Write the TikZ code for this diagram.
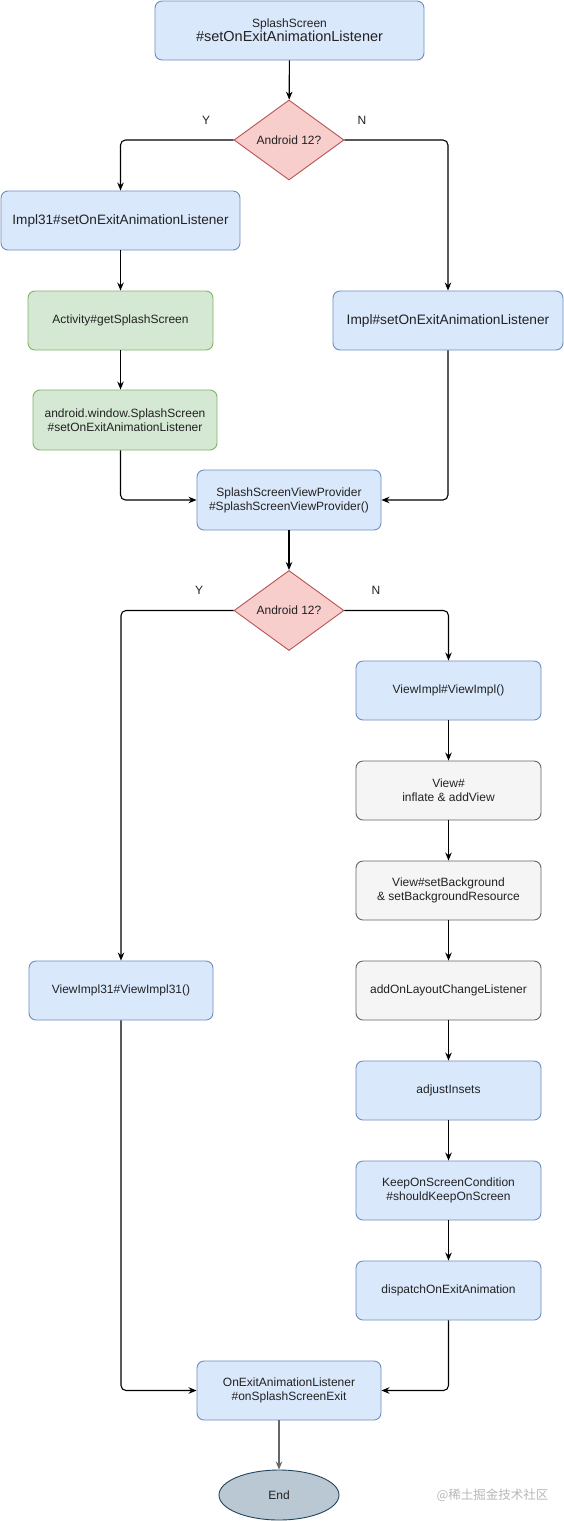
\documentclass[tikz,border=0pt]{standalone}
\usepackage{fontspec}
\setmainfont{Liberation Sans}
\newfontfamily\cjk{Noto Sans CJK SC}
\usetikzlibrary{shapes.geometric,arrows.meta}
\definecolor{bluefill}{HTML}{DAE8FC}\definecolor{bluedraw}{HTML}{6C8EBF}
\definecolor{greenfill}{HTML}{D5E8D4}\definecolor{greendraw}{HTML}{82B366}
\definecolor{grayfill}{HTML}{F5F5F5}\definecolor{graydraw}{HTML}{666666}
\definecolor{redfill}{HTML}{F8CECC}\definecolor{reddraw}{HTML}{B85450}
\definecolor{endfill}{HTML}{BAC8D3}\definecolor{enddraw}{HTML}{23445D}
\definecolor{txt}{HTML}{222222}
\begin{document}
\begin{tikzpicture}[x=1pt,y=-1pt,
  every node/.style={text=txt},
  base/.style={rectangle, rounded corners=7pt, line width=0.9pt, align=center, inner sep=0pt,
     minimum height=59pt, font=\fontsize{12}{14}\selectfont},
  bluebox/.style={base, fill=bluefill, draw=bluedraw},
  greenbox/.style={base, fill=greenfill, draw=greendraw},
  graybox/.style={base, fill=grayfill, draw=graydraw},
  decision/.style={diamond, aspect=1.375, fill=redfill, draw=reddraw, line width=0.9pt, inner sep=0pt,
     minimum width=110pt, minimum height=80pt, font=\fontsize{12}{14}\selectfont},
  arr/.style={-{Stealth[length=8pt,width=6.5pt]}, line width=1.1pt, rounded corners=5pt},
  lbl/.style={font=\fontsize{12}{14}\selectfont}
]
\useasboundingbox (0,0) rectangle (564,1521);
\fill[white] (0,0) rectangle (564,1521);

\node[bluebox, minimum width=269pt] (splash) at (289.5,30.5)
  {SplashScreen\\[0pt]{\fontsize{14.5}{16}\selectfont \#setOnExitAnimationListener}};
\node[decision] (d1) at (289,140) {Android 12?};
\node[lbl] (y1) at (206,120) {Y};
\node[lbl] (n1) at (362,120) {N};

\node[bluebox, minimum width=239pt, font=\fontsize{13.6}{16}\selectfont] (impl31) at (120.5,220.5) {Impl31\#setOnExitAnimationListener};
\node[greenbox, minimum width=185pt] (activity) at (120.5,320.5) {Activity\#getSplashScreen};
\node[greenbox, minimum width=184pt, minimum height=60pt] (android) at (125,420) {android.window.SplashScreen\\\#setOnExitAnimationListener};
\node[bluebox, minimum width=230pt, font=\fontsize{13.7}{16}\selectfont] (impl) at (448,320.5) {Impl\#setOnExitAnimationListener};

\node[bluebox, minimum width=184pt, minimum height=60pt] (ssvp) at (289,500) {SplashScreenViewProvider\\\#SplashScreenViewProvider()};
\node[decision] (d2) at (289,610.5) {Android 12?};
\node[lbl] (y2) at (199,590) {Y};
\node[lbl] (n2) at (376,590) {N};

\node[bluebox, minimum width=185pt] (viewimpl) at (448.5,690.5) {ViewImpl\#ViewImpl()};
\node[graybox, minimum width=185pt] (inflate) at (448.5,790.5) {View\#\\inflate \& addView};
\node[graybox, minimum width=185pt] (setbg) at (448.5,890.5) {View\#setBackground\\\& setBackgroundResource};
\node[graybox, minimum width=185pt] (layout) at (448.5,990.5) {addOnLayoutChangeListener};
\node[bluebox, minimum width=185pt] (insets) at (448.5,1090.5) {adjustInsets};
\node[bluebox, minimum width=185pt] (keep) at (448.5,1190.5) {KeepOnScreenCondition\\\#shouldKeepOnScreen};
\node[bluebox, minimum width=185pt] (dispatch) at (448.5,1290.5) {dispatchOnExitAnimation};
\node[bluebox, minimum width=184pt] (viewimpl31) at (121,990.5) {ViewImpl31\#ViewImpl31()};

\node[bluebox, minimum width=184pt] (onexit) at (289,1390.5) {OnExitAnimationListener\\\#onSplashScreenExit};
\node[ellipse, fill=endfill, draw=enddraw, line width=0.9pt, minimum width=120pt, minimum height=50pt,
  inner sep=0pt, font=\fontsize{12}{14}\selectfont] (end) at (279,1495) {End};
\node[font=\cjk\fontsize{12.5}{14}\selectfont, text=black!28] (wm) at (492.5,1495) {@稀土掘金技术社区};

\draw[arr] (splash) -- (d1);
\draw[arr] (d1.west) -| (impl31.north);
\draw[arr] (d1.east) -| (impl.north);
\draw[arr] (impl31) -- (activity);
\draw[arr] (activity) -- (activity |- android.north);
\draw[arr] (android.south -| activity.south) |- (ssvp.west);
\draw[arr] (impl.south) |- (ssvp.east);
\draw[arr] (ssvp) -- (d2);
\draw[arr] (d2.west) -| (viewimpl31.north);
\draw[arr] (d2.east) -| (viewimpl.north);
\draw[arr] (viewimpl) -- (inflate);
\draw[arr] (inflate) -- (setbg);
\draw[arr] (setbg) -- (layout);
\draw[arr] (layout) -- (insets);
\draw[arr] (insets) -- (keep);
\draw[arr] (keep) -- (dispatch);
\draw[arr] (viewimpl31.south) |- (onexit.west);
\draw[arr] (dispatch.south) |- (onexit.east);
\draw[arr, draw=graydraw, line width=1.6pt] (onexit.south -| end.north) -- (end.north);
\end{tikzpicture}
\end{document}
